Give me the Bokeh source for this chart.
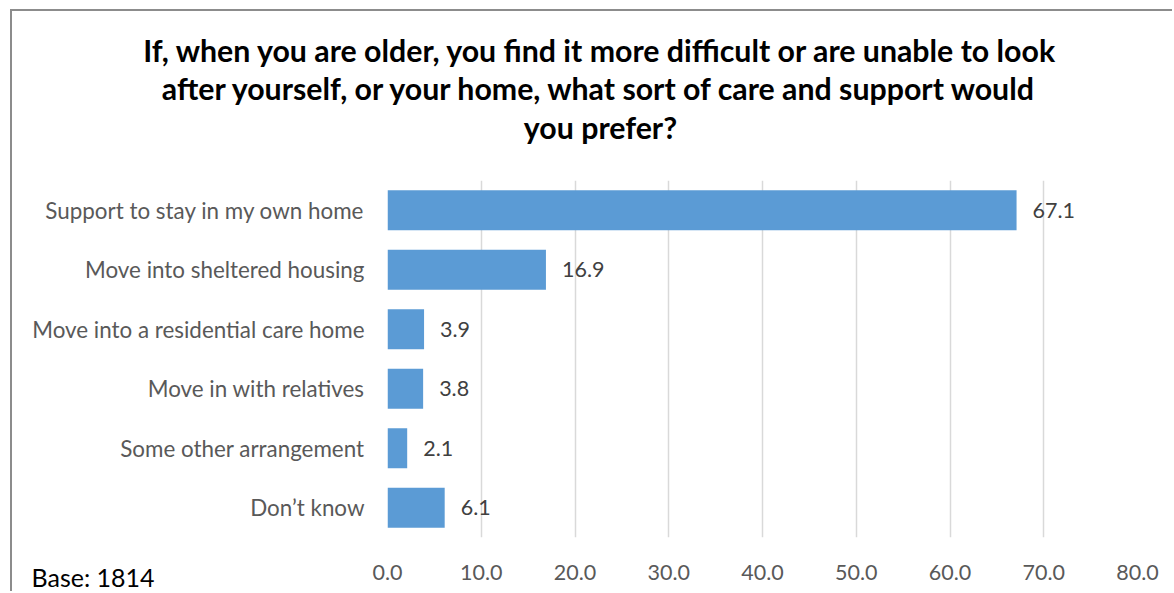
from bokeh.plotting import figure
from bokeh.models import (ColumnDataSource, FactorRange, Range1d, FixedTicker,
                          LabelSet, Label)
from bokeh.core.properties import value
from bokeh.embed import file_html
from bokeh.resources import INLINE

categories = ["Support to stay in my own home", "Move into sheltered housing",
              "Move into a residential care home", "Move in with relatives",
              "Some other arrangement", "Don\u2019t know"]
values = [67.1, 16.9, 3.9, 3.8, 2.1, 6.1]
x_ticks = [0, 10, 20, 30, 40, 50, 60, 70, 80]
tick_labels = ["0.0", "10.0", "20.0", "30.0", "40.0", "50.0", "60.0", "70.0", "80.0"]
title_lines = ["If, when you are older, you find it more difficult or are unable to look",
               "after yourself, or your home, what sort of care and support would",
               "you prefer?"]
base_text = "Base: 1814"

FONT = "Lato"

src = ColumnDataSource(dict(cat=categories, val=values,
                            lab=[f"{v:.1f}" for v in values]))

p = figure(width=1162, height=582, output_backend="svg", toolbar_location=None,
           y_range=FactorRange(factors=list(reversed(categories)), range_padding=0),
           x_range=Range1d(0, 80),
           min_border_left=375, min_border_right=37, min_border_top=169,
           min_border_bottom=56)
p.styles = {"border-left": "2px solid #8c8c8c", "border-top": "2px solid #8c8c8c",
            "margin-left": "10px", "margin-top": "9px"}
p.outline_line_color = None
p.background_fill_color = "white"
p.border_fill_color = "white"

p.hbar(y="cat", right="val", left=0, height=0.67, source=src,
       fill_color="#5B9BD5", line_color=None)

p.add_layout(LabelSet(x="val", y="cat", text="lab", source=src, x_offset=16,
                      text_baseline="middle", text_font_size="21.5px",
                      text_color="#404040", text_font=value(FONT)))

# axes
p.xaxis.ticker = FixedTicker(ticks=x_ticks)
p.xaxis.major_label_overrides = {t: l for t, l in zip(x_ticks, tick_labels)}
p.xaxis.axis_line_color = None
p.xaxis.major_tick_line_color = None
p.xaxis.minor_tick_line_color = None
p.xaxis.major_label_text_font_size = "21.5px"
p.xaxis.major_label_text_color = "#595959"
p.xaxis.major_label_text_font = FONT
p.xaxis.major_label_standoff = 21

p.yaxis.axis_line_color = None
p.yaxis.major_tick_line_color = None
p.yaxis.major_label_text_font_size = "22.4px"
p.yaxis.major_label_text_color = "#595959"
p.yaxis.major_label_text_font = FONT
p.yaxis.major_label_standoff = 17

p.ygrid.grid_line_color = None
p.xgrid.grid_line_color = "#d9d9d9"
p.xgrid.grid_line_width = 1.5

# labels placed in the side panel above the frame (not clipped)
p.add_layout(Label(x=-356, y=-396, x_units="screen", y_units="screen", text=base_text,
                   text_align="left", text_baseline="middle",
                   text_font_size="25px", text_color="black", text_font=FONT), "above")

p.add_layout(Label(x=213, y=62, x_units="screen", y_units="screen",
                   text="\n".join(title_lines),
                   text_align="center", text_baseline="middle", text_line_height=1.08,
                   text_font_size="30.3px", text_font_style="bold",
                   text_color="black", text_font=FONT), "above")

open("out.html", "w").write(file_html(p, INLINE))
